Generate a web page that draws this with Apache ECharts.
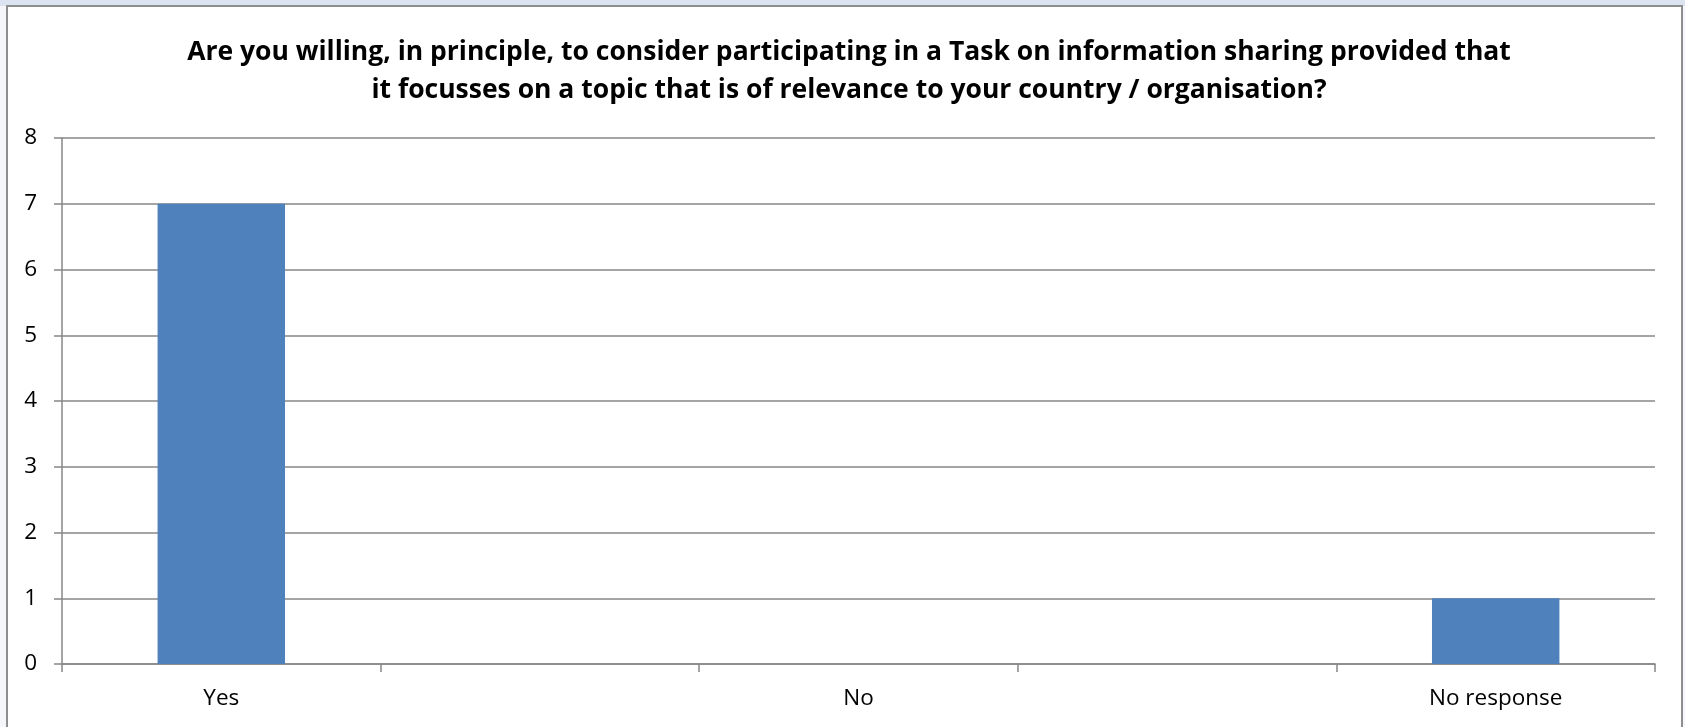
<!DOCTYPE html>
<html>
<head>
<meta charset="utf-8">
<script src="https://cdn.jsdelivr.net/npm/echarts@6/dist/echarts.min.js"></script>
<style>
  html, body { margin: 0; padding: 0; width: 1685px; height: 727px; overflow: hidden; background: #f4f6fa; }
  #topstrip { position: absolute; left: 0; top: 0; width: 1685px; height: 6px; background: #dde4f1; }
  #frame { position: absolute; left: 6px; top: 5px; width: 1673px; height: 730px; border: 2px solid #8e8e8e; border-bottom: none; background: #fff; }
  #chart { position: absolute; left: 0; top: 0; width: 1685px; height: 727px; }
</style>
</head>
<body>
<div id="topstrip"></div>
<div id="frame"></div>
<div id="chart"></div>
<script>
const titleLines = [
  'Are you willing, in principle, to consider participating in a Task on information sharing provided that',
  'it focusses on a topic that is of relevance to your country / organisation?'
];
const categories = ['Yes', '', 'No', '', 'No response'];
const values = [7, null, 0, null, 1];
const yTicks = { min: 0, max: 8, interval: 1 };

const chart = echarts.init(document.getElementById('chart'), null, { renderer: 'canvas' });
chart.setOption({
  backgroundColor: 'transparent',
  animation: false,
  title: {
    text: titleLines.join('\n'),
    left: 844,
    textAlign: 'center',
    top: 28,
    textStyle: {
      fontFamily: 'Open Sans',
      fontWeight: 'bold',
      fontSize: 26.5,
      lineHeight: 38,
      color: '#000'
    }
  },
  grid: { left: 62, right: 30, top: 138, bottom: 63, containLabel: false },
  xAxis: {
    type: 'category',
    data: categories,
    boundaryGap: true,
    axisLine: { show: true, lineStyle: { color: '#878787', width: 1.5 } },
    axisTick: { show: true, length: 8, interval: 0, lineStyle: { color: '#878787', width: 1.5 } },
    axisLabel: { interval: 0, margin: 23, fontFamily: 'Open Sans', fontSize: 22.5, color: '#000' },
    splitLine: { show: false }
  },
  yAxis: {
    type: 'value',
    min: yTicks.min,
    max: yTicks.max,
    interval: yTicks.interval,
    axisLine: { show: true, lineStyle: { color: '#878787', width: 1.5 } },
    axisTick: { show: true, length: 8, lineStyle: { color: '#878787', width: 1.5 } },
    axisLabel: { margin: 25, fontFamily: 'Open Sans', fontSize: 22.5, color: '#000' },
    splitLine: { show: true, lineStyle: { color: '#878787', width: 1.5 } }
  },
  series: [{
    type: 'bar',
    data: values,
    barWidth: '40%',
    itemStyle: { color: '#4f81bd' }
  }]
});
</script>
</body>
</html>
